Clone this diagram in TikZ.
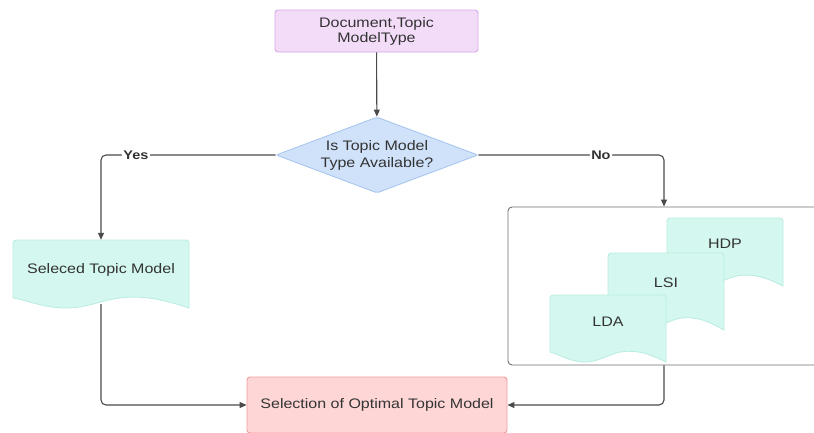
\documentclass[tikz,border=0pt]{standalone}
\usepackage{fontspec}
\setmainfont{Liberation Sans}[FakeStretch=1.16]
\usetikzlibrary{shapes.geometric,arrows.meta,calc}
\definecolor{topfill}{HTML}{F3DCF8}
\definecolor{topdraw}{HTML}{D8A6EA}
\definecolor{dfill}{HTML}{CFE2FA}
\definecolor{ddraw}{HTML}{A9C7EF}
\definecolor{docfill}{HTML}{D4F7F0}
\definecolor{docdraw}{HTML}{B9ECE1}
\definecolor{optfill}{HTML}{FFD6D6}
\definecolor{optdraw}{HTML}{EE9C9C}
\definecolor{linec}{HTML}{4A4A4A}
\definecolor{txtc}{HTML}{333333}
\definecolor{grpdraw}{HTML}{707070}
\tikzset{
  txt/.style={text=txtc, font=\fontsize{13.8}{15}\selectfont},
  procbox/.style={txt, rectangle, rounded corners=3pt, line width=0.9pt, inner sep=0pt, align=center},
  conn/.style={draw=linec, line width=1.1pt, rounded corners=5pt, -{Triangle[length=7pt,width=6pt]}},
  lbl/.style={fill=white, text=txtc, inner sep=1.5pt, font=\fontsize{12.5}{14}\bfseries\selectfont},
  docpath/.style={fill=docfill, draw=docdraw, line width=0.8pt},
}
% #1 name, #2 L, #3 T, #4 R, #5 B, #6 text y, #7 text
\newcommand\docshape[7]{%
  \path[docpath] (#2,{#3+0.85*(#5-#3)}) [rounded corners=3pt] -- (#2,#3) -- (#4,#3) [sharp corners] -- (#4,#5)
    .. controls ({#2+0.86*(#4-#2)},{#3+0.88*(#5-#3)}) and ({#2+0.78*(#4-#2)},{#3+0.84*(#5-#3)}) .. ({#2+0.68*(#4-#2)},{#3+0.84*(#5-#3)})
    .. controls ({#2+0.52*(#4-#2)},{#3+0.84*(#5-#3)}) and ({#2+0.45*(#4-#2)},#5) .. ({#2+0.3*(#4-#2)},#5)
    .. controls ({#2+0.18*(#4-#2)},#5) and ({#2+0.08*(#4-#2)},{#3+0.89*(#5-#3)}) .. (#2,{#3+0.85*(#5-#3)}) -- cycle;
  \node[inner sep=0pt, minimum width={#4-#2}, minimum height={#5-#3}] (#1) at ({(#2+#4)/2},{(#3+#5)/2}) {};
  \node[txt] (#1-t) at ({(#2+#4)/2},#6) {#7};
}
\begin{document}
\begin{tikzpicture}[x=1pt,y=-1pt]
\clip (0,0) rectangle (814,432);
\fill[white] (0,0) rectangle (814,432);

\node[procbox, fill=topfill, draw=topdraw, minimum width=203pt, minimum height=42pt] (top) at (376.5,31) {Document,Topic\\ModelType};

\node[diamond, draw=ddraw, fill=dfill, line width=0.9pt, minimum width=202pt, minimum height=76pt, inner sep=0pt, rounded corners=2pt] (d) at (377,155) {};
\node[txt, align=center, font=\fontsize{13.8}{17}\selectfont] (dt) at (377,155) {Is Topic Model\\Type Available?};

\node[draw=grpdraw, line width=0.9pt, rounded corners=4pt, minimum width=312pt, minimum height=158pt, inner sep=0pt] (grp) at (664,286) {};

\docshape{sel}{13}{240}{189}{308}{270}{Seleced Topic Model}
\docshape{hdp}{667}{218}{783}{286}{244}{HDP}
\docshape{lsi}{608}{253}{724}{330}{283}{LSI}
\docshape{lda}{550}{295}{666}{362}{322}{LDA}

\node[procbox, fill=optfill, draw=optdraw, minimum width=260pt, minimum height=56pt] (opt) at (377,405) {Selection of Optimal Topic Model};

\draw[conn] (top) -- (d);
\draw[conn] (d.west) -| node[lbl, pos=0.4] {Yes} (sel.north);
\draw[conn] (d.east) -| node[lbl, pos=0.33] {No} (grp.north);
\draw[conn, shorten <=-4pt] (sel.south) |- (opt.west);
\draw[conn] (grp.south) |- (opt.east);
\end{tikzpicture}
\end{document}
